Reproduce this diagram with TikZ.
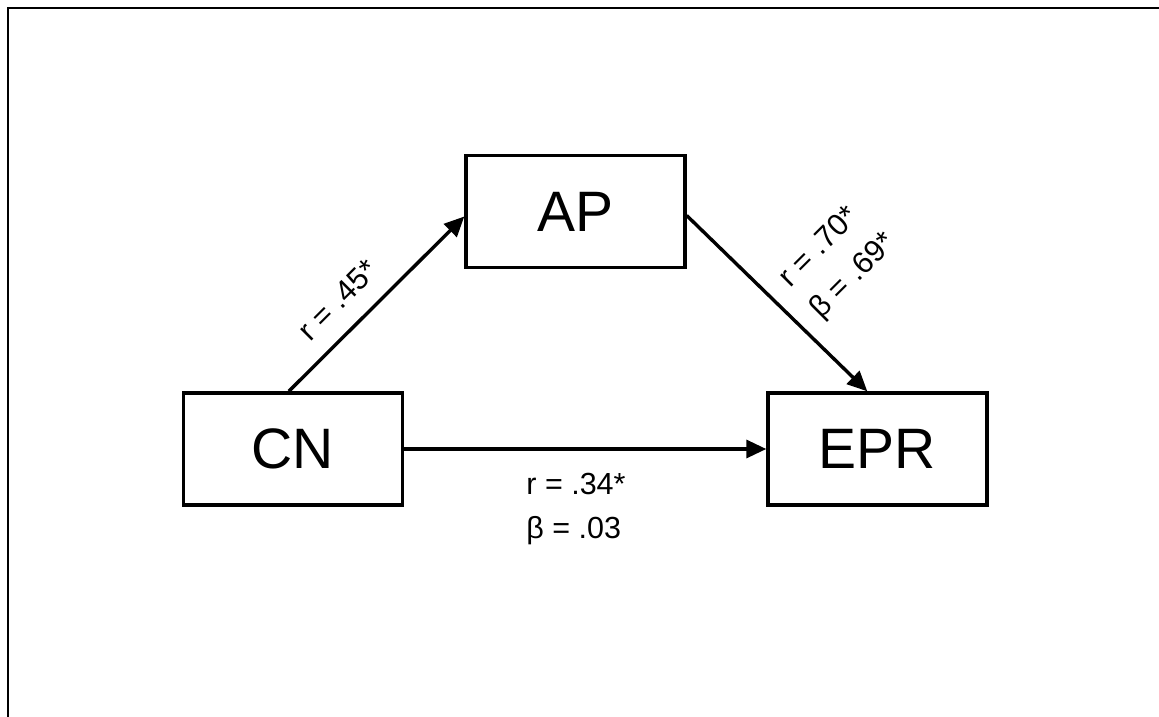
\documentclass[tikz,border=0pt]{standalone}
\usepackage{fontspec}
\setmainfont{Liberation Sans}
\usetikzlibrary{arrows.meta,calc}
\tikzset{
  box/.style={draw, line width=3.4pt, minimum width=219pt, minimum height=112pt, inner sep=0pt,
    font=\fontsize{57}{68}\selectfont},
  conn/.style={line width=3.4pt, -{Triangle[length=20pt,width=18pt]}},
  lbl/.style={font=\fontsize{30.5}{44}\selectfont, align=left, inner sep=0pt},
  frame/.style={line width=2.8pt}
}
\begin{document}
\begin{tikzpicture}[x=1pt,y=-1pt]
\useasboundingbox (0,0) rectangle (1159,717);
\draw[frame] (8,717) -- (8,8) -- (1159,8);
\node[box] (ap) at (575.5,211.5) {AP};
\node[box] (cn) at (293,449) {CN};
\node[box] (epr) at (877.5,449) {EPR};
\draw[conn] ([xshift=107pt]cn.north west) -- ([yshift=-5pt]ap.west);
\draw[conn] ([yshift=-4pt]ap.east) -- ([xshift=101pt]epr.north west);
\draw[conn] (cn.east) -- (epr.west);
\node[lbl, rotate=45] (l1) at (338,300) {r = .45*};
\node[lbl, rotate=45] (l2) at (838,261) {r = .70*\\β = .69*};
\node[lbl] (l3) at (576,509) {r = .34*\\β = .03};
\end{tikzpicture}
\end{document}
